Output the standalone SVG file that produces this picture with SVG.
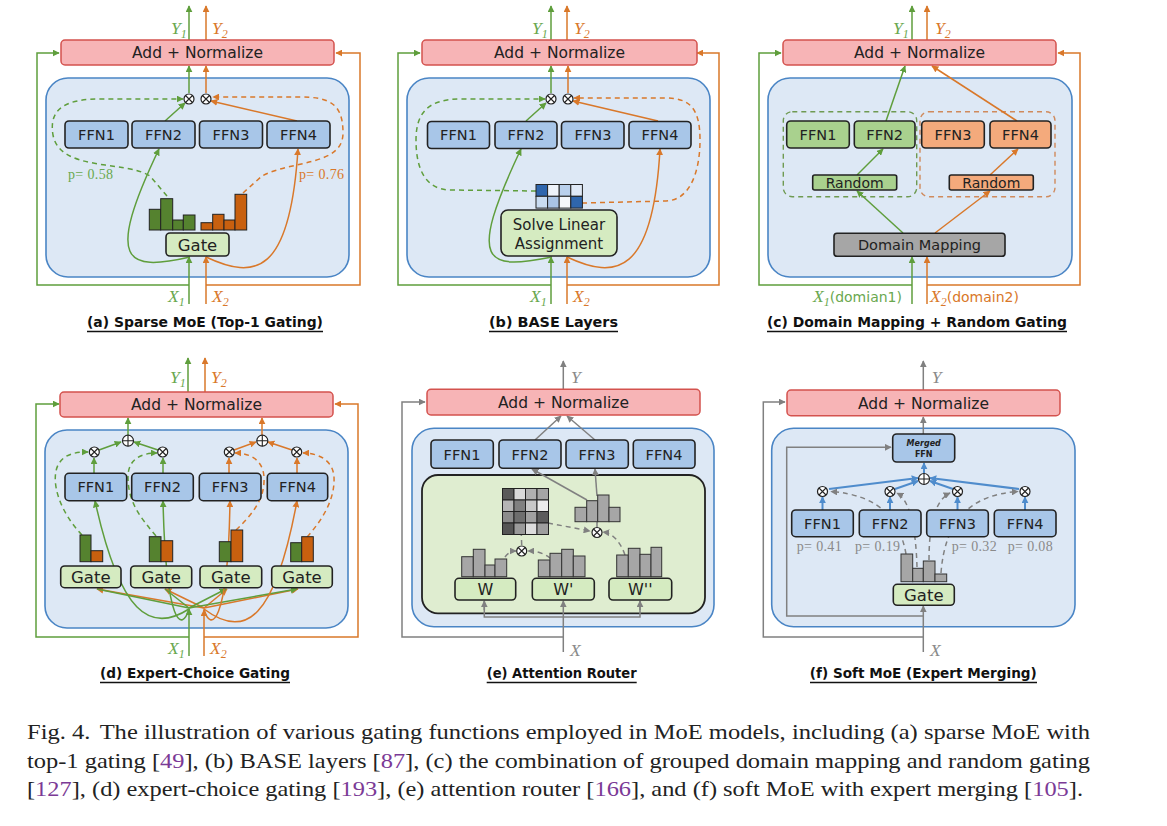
<svg xmlns="http://www.w3.org/2000/svg" width="1167" height="826" viewBox="0 0 1167 826">
<style>
.bg{fill:#ffffff}
.cont{fill:#dde8f5;stroke:#4a85c5;stroke-width:1.6}
.add{fill:#f7b4b6;stroke:#d4524e;stroke-width:1.5}
.ffn{fill:#a8c6e8;stroke:#222;stroke-width:1.6}
.gate{fill:#d5ebc1;stroke:#222;stroke-width:1.6}
.t{font-family:"DejaVu Sans",sans-serif;fill:#222;text-anchor:middle}
.math{font-family:"Liberation Serif",serif;font-style:italic;font-size:17.5px}
.ttl{font-family:"DejaVu Sans",sans-serif;font-weight:bold;font-size:14.5px;fill:#111;text-anchor:middle}
.ul{stroke:#111;stroke-width:1.3}
.p{font-family:"Liberation Serif",serif;font-size:14px}
.g{stroke:#5f9e3c;fill:none;stroke-width:1.5}
.o{stroke:#d9782a;fill:none;stroke-width:1.5}
.gr{stroke:#808080;fill:none;stroke-width:1.5}
.bl{stroke:#4f8ccc;fill:none;stroke-width:2}
.dash{stroke-dasharray:5 4}
.tg{fill:#6aa84f}
.to{fill:#d9782a}
.tgr{fill:#8a8a8a}
.bgn{fill:#55822f;stroke:#222;stroke-width:1}
.bor{fill:#c8600f;stroke:#222;stroke-width:1}
.bgy{fill:#a6a6a6;stroke:#333;stroke-width:1}
.cap{font-family:"Liberation Serif",serif;font-size:21px;fill:#222}
.ref{fill:#7b3a96}
</style>
<defs>
<marker id="ag" viewBox="0 0 10 10" refX="9" refY="5" markerWidth="7" markerHeight="7" markerUnits="userSpaceOnUse" orient="auto"><path d="M0,0L10,5L0,10z" fill="#5f9e3c"/></marker>
<marker id="ao" viewBox="0 0 10 10" refX="9" refY="5" markerWidth="7" markerHeight="7" markerUnits="userSpaceOnUse" orient="auto"><path d="M0,0L10,5L0,10z" fill="#d9782a"/></marker>
<marker id="agr" viewBox="0 0 10 10" refX="9" refY="5" markerWidth="7" markerHeight="7" markerUnits="userSpaceOnUse" orient="auto"><path d="M0,0L10,5L0,10z" fill="#808080"/></marker>
<marker id="abl" viewBox="0 0 10 10" refX="9" refY="5" markerWidth="7" markerHeight="7" markerUnits="userSpaceOnUse" orient="auto"><path d="M0,0L10,5L0,10z" fill="#4f8ccc"/></marker>
<g id="ot"><circle r="5" fill="#fff" stroke="#222" stroke-width="1.2"/><path d="M-3.5,-3.5L3.5,3.5M3.5,-3.5L-3.5,3.5" stroke="#222" stroke-width="1.1"/></g>
<g id="op"><circle r="5.5" fill="#fff" stroke="#222" stroke-width="1.2"/><path d="M-5.5,0H5.5M0,-5.5V5.5" stroke="#222" stroke-width="1.1"/></g>
</defs>
<rect class="bg" x="0" y="0" width="1167" height="826"/>

<!-- ================= (a) ================= -->
<g id="panel-a">
  <g id="a-container"><rect class="cont" x="46" y="78" width="303" height="199" rx="22"/></g>
  <g id="a-connectors">
    <polyline class="g" points="189,285 37,285 37,53 59,53" marker-end="url(#ag)"/>
    <polyline class="o" points="206,285 360,285 360,53 336,53" marker-end="url(#ao)"/>
    <line class="g" x1="189" y1="40" x2="189" y2="6" marker-end="url(#ag)"/>
    <line class="o" x1="206" y1="40" x2="206" y2="6" marker-end="url(#ao)"/>
    <line class="g" x1="189" y1="304" x2="189" y2="257" marker-end="url(#ag)"/>
    <line class="o" x1="206" y1="304" x2="206" y2="257" marker-end="url(#ao)"/>
    <line class="g" x1="189" y1="93" x2="189" y2="66" marker-end="url(#ag)"/>
    <line class="o" x1="206" y1="93" x2="206" y2="66" marker-end="url(#ao)"/>
    <line class="g" x1="165" y1="121" x2="185" y2="103" marker-end="url(#ag)"/>
    <line class="o" x1="297" y1="121" x2="211" y2="101" marker-end="url(#ao)"/>
    <path class="g" d="M190,257 C125,272 105,262 159,149" marker-end="url(#ag)"/>
    <path class="o" d="M206,257 C255,280 290,275 298,149" marker-end="url(#ao)"/>
    <path class="g dash" d="M167,196 L150,176 C125,160 60,172 53,135 C48,106 70,99 100,99 L183,99" marker-end="url(#ag)"/>
    <path class="o dash" d="M243,193 L262,176 C292,160 343,166 343,133 C343,104 330,97 300,97 L213,97" marker-end="url(#ao)"/>
  </g>
  <g id="a-addnorm"><rect class="add" x="61" y="40" width="273" height="25" rx="4"/><text class="t" x="197.5" y="58" font-size="15.5">Add + Normalize</text></g>
  <g id="a-mult"><use href="#ot" x="189" y="99"/><use href="#ot" x="206" y="99"/></g>
  <g id="a-ffn1"><rect class="ffn" x="65" y="121" width="63" height="27" rx="4"/><text class="t" x="96.5" y="139.5" font-size="14.5">FFN1</text></g>
  <g id="a-ffn2"><rect class="ffn" x="132" y="121" width="63" height="27" rx="4"/><text class="t" x="163.5" y="139.5" font-size="14.5">FFN2</text></g>
  <g id="a-ffn3"><rect class="ffn" x="199.5" y="121" width="63" height="27" rx="4"/><text class="t" x="231" y="139.5" font-size="14.5">FFN3</text></g>
  <g id="a-ffn4"><rect class="ffn" x="267" y="121" width="63" height="27" rx="4"/><text class="t" x="298.5" y="139.5" font-size="14.5">FFN4</text></g>
  <g id="a-bars">
    <rect class="bgn" x="149.3" y="209.3" width="11.4" height="20.7"/><rect class="bgn" x="160.7" y="198.7" width="12" height="31.3"/><rect class="bgn" x="172.7" y="220" width="10.6" height="10"/><rect class="bgn" x="183.3" y="215" width="11.7" height="15"/>
    <rect class="bor" x="201" y="222.7" width="11.7" height="7.3"/><rect class="bor" x="212.7" y="214.3" width="11.3" height="15.7"/><rect class="bor" x="224" y="220" width="11" height="10"/><rect class="bor" x="235" y="194.3" width="11.7" height="35.7"/>
  </g>
  <g id="a-gate"><rect class="gate" x="166" y="233" width="63" height="23" rx="4"/><text class="t" x="197.5" y="250.5" font-size="16.5">Gate</text></g>
  <g id="a-labels">
    <text class="p tg" x="68" y="179" textLength="45">p= 0.58</text>
    <text class="p to" x="299" y="179" textLength="45">p= 0.76</text>
    <text class="math tg" x="171" y="34">Y<tspan dy="4" font-size="12">1</tspan></text>
    <text class="math to" x="212" y="34">Y<tspan dy="4" font-size="12">2</tspan></text>
    <text class="math tg" x="168" y="302">X<tspan dy="4" font-size="12">1</tspan></text>
    <text class="math to" x="212" y="302">X<tspan dy="4" font-size="12">2</tspan></text>
  </g>
  <g id="a-title"><text class="ttl" x="205" y="327" textLength="236" lengthAdjust="spacingAndGlyphs">(a) Sparse MoE (Top-1 Gating)</text><line class="ul" x1="87" y1="331.5" x2="323" y2="331.5"/></g>
</g>

<!-- ================= (b) ================= -->
<g id="panel-b" transform="translate(361,0)">
  <g id="b-container"><rect class="cont" x="46" y="78" width="303" height="199" rx="22"/></g>
  <g id="b-connectors">
    <polyline class="g" points="190,285 37,285 37,53 59,53" marker-end="url(#ag)"/>
    <polyline class="o" points="206,285 358,285 358,53 336,53" marker-end="url(#ao)"/>
    <line class="g" x1="190" y1="40" x2="190" y2="6" marker-end="url(#ag)"/>
    <line class="o" x1="206" y1="40" x2="206" y2="6" marker-end="url(#ao)"/>
    <line class="g" x1="190" y1="304" x2="190" y2="257" marker-end="url(#ag)"/>
    <line class="o" x1="206" y1="304" x2="206" y2="257" marker-end="url(#ao)"/>
    <line class="g" x1="190" y1="93" x2="190" y2="66" marker-end="url(#ag)"/>
    <line class="o" x1="207" y1="93" x2="207" y2="66" marker-end="url(#ao)"/>
    <line class="g" x1="165" y1="121" x2="185" y2="103" marker-end="url(#ag)"/>
    <line class="o" x1="297" y1="121" x2="212" y2="101" marker-end="url(#ao)"/>
    <path class="g" d="M191,257 C125,270 105,265 160,149" marker-end="url(#ag)"/>
    <path class="o" d="M206,257 C255,280 292,275 299,149" marker-end="url(#ao)"/>
    <path class="g dash" d="M175,191 L90,190 C62,190 55,165 55,140 C55,110 70,99 100,99 L184,99" marker-end="url(#ag)"/>
    <path class="o dash" d="M221,203 L305,201 C330,200 339,170 339,140 C339,110 330,98 305,98 L213,98" marker-end="url(#ao)"/>
  </g>
  <g id="b-addnorm"><rect class="add" x="61" y="40" width="275" height="25" rx="4"/><text class="t" x="198.5" y="58" font-size="15.5">Add + Normalize</text></g>
  <g id="b-mult"><use href="#ot" x="190" y="99"/><use href="#ot" x="207" y="99"/></g>
  <g id="b-ffn1"><rect class="ffn" x="66.5" y="121.5" width="62" height="27" rx="4"/><text class="t" x="97.5" y="140" font-size="14.5">FFN1</text></g>
  <g id="b-ffn2"><rect class="ffn" x="134" y="121.5" width="62" height="27" rx="4"/><text class="t" x="165" y="140" font-size="14.5">FFN2</text></g>
  <g id="b-ffn3"><rect class="ffn" x="200.5" y="121.5" width="62.5" height="27" rx="4"/><text class="t" x="232" y="140" font-size="14.5">FFN3</text></g>
  <g id="b-ffn4"><rect class="ffn" x="268" y="121.5" width="62" height="27" rx="4"/><text class="t" x="299" y="140" font-size="14.5">FFN4</text></g>
  <g id="b-matrix" stroke="#222" stroke-width="1">
    <rect x="175" y="184.5" width="11.6" height="11.8" fill="#2f66ad"/><rect x="186.6" y="184.5" width="11.6" height="11.8" fill="#eef3fa"/><rect x="198.2" y="184.5" width="11.6" height="11.8" fill="#b9d0ec"/><rect x="209.8" y="184.5" width="11.6" height="11.8" fill="#dfe9f6"/>
    <rect x="175" y="196.3" width="11.6" height="11.8" fill="#c9dcf1"/><rect x="186.6" y="196.3" width="11.6" height="11.8" fill="#a9c4e6"/><rect x="198.2" y="196.3" width="11.6" height="11.8" fill="#f4f7fb"/><rect x="209.8" y="196.3" width="11.6" height="11.8" fill="#2f66ad"/>
  </g>
  <g id="b-sla"><rect class="gate" x="140" y="210" width="116" height="46" rx="7"/><text class="t" x="198" y="230" font-size="15">Solve Linear</text><text class="t" x="198" y="249" font-size="15">Assignment</text></g>
  <g id="b-labels">
    <text class="math tg" x="171" y="34">Y<tspan dy="4" font-size="12">1</tspan></text>
    <text class="math to" x="213" y="34">Y<tspan dy="4" font-size="12">2</tspan></text>
    <text class="math tg" x="169" y="302">X<tspan dy="4" font-size="12">1</tspan></text>
    <text class="math to" x="212" y="302">X<tspan dy="4" font-size="12">2</tspan></text>
  </g>
  <g id="b-title"><text class="ttl" x="192.5" y="327" textLength="129" lengthAdjust="spacingAndGlyphs">(b) BASE Layers</text><line class="ul" x1="128" y1="331.5" x2="257" y2="331.5"/></g>
</g>

<!-- ================= (c) ================= -->
<g id="panel-c" transform="translate(722,0)">
  <g id="c-container"><rect class="cont" x="46" y="78" width="304" height="199" rx="22"/></g>
  <g id="c-groups">
    <rect x="61.3" y="111.7" width="133.4" height="85" rx="9" fill="none" stroke="#6f9a52" stroke-width="1.4" stroke-dasharray="5 4"/>
    <rect x="198" y="111.7" width="135" height="85" rx="9" fill="none" stroke="#d08a5c" stroke-width="1.4" stroke-dasharray="5 4"/>
  </g>
  <g id="c-connectors">
    <polyline class="g" points="190,285 37,285 37,53 59,53" marker-end="url(#ag)"/>
    <polyline class="o" points="205,285 358,285 358,53 336,53" marker-end="url(#ao)"/>
    <line class="g" x1="190" y1="40" x2="190" y2="6" marker-end="url(#ag)"/>
    <line class="o" x1="205" y1="40" x2="205" y2="6" marker-end="url(#ao)"/>
    <line class="g" x1="190" y1="304" x2="190" y2="257" marker-end="url(#ag)"/>
    <line class="o" x1="205" y1="304" x2="205" y2="257" marker-end="url(#ao)"/>
    <line class="g" x1="181" y1="233" x2="135" y2="191" marker-end="url(#ag)"/>
    <line class="o" x1="213" y1="233" x2="268" y2="191" marker-end="url(#ao)"/>
    <line class="g" x1="135" y1="175" x2="161" y2="149" marker-end="url(#ag)"/>
    <line class="o" x1="268" y1="175" x2="296" y2="149" marker-end="url(#ao)"/>
    <line class="g" x1="164" y1="121" x2="183" y2="66" marker-end="url(#ag)"/>
    <line class="o" x1="295" y1="121" x2="210" y2="66" marker-end="url(#ao)"/>
  </g>
  <g id="c-addnorm"><rect class="add" x="61" y="40" width="273" height="25" rx="4"/><text class="t" x="197.5" y="58" font-size="15.5">Add + Normalize</text></g>
  <g id="c-ffn1"><rect x="64.7" y="121" width="62.6" height="27" rx="4" fill="#a9d18e" stroke="#222" stroke-width="1.6"/><text class="t" x="96" y="139.5" font-size="14.5">FFN1</text></g>
  <g id="c-ffn2"><rect x="132.3" y="121" width="60.7" height="27" rx="4" fill="#a9d18e" stroke="#222" stroke-width="1.6"/><text class="t" x="162.7" y="139.5" font-size="14.5">FFN2</text></g>
  <g id="c-ffn3"><rect x="199.7" y="121" width="62.6" height="27" rx="4" fill="#f4aa7c" stroke="#222" stroke-width="1.6"/><text class="t" x="231" y="139.5" font-size="14.5">FFN3</text></g>
  <g id="c-ffn4"><rect x="268" y="121" width="61" height="27" rx="4" fill="#f4aa7c" stroke="#222" stroke-width="1.6"/><text class="t" x="298.5" y="139.5" font-size="14.5">FFN4</text></g>
  <g id="c-random1"><rect x="90.7" y="175" width="84" height="15" rx="2" fill="#a9d18e" stroke="#222" stroke-width="1.6"/><text class="t" x="132.7" y="187.5" font-size="14">Random</text></g>
  <g id="c-random2"><rect x="227.3" y="175" width="84" height="15" rx="2" fill="#f4aa7c" stroke="#222" stroke-width="1.6"/><text class="t" x="269.3" y="187.5" font-size="14">Random</text></g>
  <g id="c-domain"><rect x="112" y="233.3" width="171" height="23" rx="3" fill="#a6a6a6" stroke="#222" stroke-width="1.6"/><text class="t" x="197.5" y="250" font-size="14.5">Domain Mapping</text></g>
  <g id="c-labels">
    <text class="math tg" x="171" y="34">Y<tspan dy="4" font-size="12">1</tspan></text>
    <text class="math to" x="213" y="34">Y<tspan dy="4" font-size="12">2</tspan></text>
    <text class="math tg" x="91" y="302">X<tspan dy="4" font-size="12">1</tspan><tspan dy="-4" font-family="DejaVu Sans,sans-serif" font-style="normal" font-size="14">(domian1)</tspan></text>
    <text class="math to" x="208" y="302">X<tspan dy="4" font-size="12">2</tspan><tspan dy="-4" font-family="DejaVu Sans,sans-serif" font-style="normal" font-size="14">(domain2)</tspan></text>
  </g>
  <g id="c-title"><text class="ttl" x="195" y="327" textLength="300" lengthAdjust="spacingAndGlyphs">(c) Domain Mapping + Random Gating</text><line class="ul" x1="45" y1="331.5" x2="345" y2="331.5"/></g>
</g>

<!-- ================= (d) ================= -->
<g id="panel-d" transform="translate(0,352)">
  <g id="d-container"><rect class="cont" x="45" y="78" width="303" height="198" rx="22"/></g>
  <g id="d-connectors">
    <polyline class="g" points="189,285 36,285 36,52 59,52" marker-end="url(#ag)"/>
    <polyline class="o" points="204,285 358,285 358,52 335,52" marker-end="url(#ao)"/>
    <line class="g" x1="188" y1="40" x2="188" y2="6" marker-end="url(#ag)"/>
    <line class="o" x1="205" y1="40" x2="205" y2="6" marker-end="url(#ao)"/>
    <line class="g" x1="189" y1="304" x2="189" y2="257" marker-end="url(#ag)"/>
    <line class="o" x1="204" y1="304" x2="204" y2="258" marker-end="url(#ao)"/>
    <line class="o" x1="204" y1="256" x2="97" y2="237" marker-end="url(#ao)"/>
    <line class="o" x1="204" y1="256" x2="165" y2="237" marker-end="url(#ao)"/>
    <line class="o" x1="204" y1="256" x2="227" y2="237" marker-end="url(#ao)"/>
    <line class="o" x1="204" y1="256" x2="298" y2="237" marker-end="url(#ao)"/>
    <line class="g" x1="189" y1="256" x2="97" y2="237"/>
    <line class="g" x1="189" y1="256" x2="165" y2="237"/>
    <line class="g" x1="189" y1="256" x2="226" y2="237" marker-end="url(#ag)"/>
    <line class="g" x1="189" y1="256" x2="297" y2="237" marker-end="url(#ag)"/>
    <path class="g" d="M189,257 C150,282 120,262 95,149" marker-end="url(#ag)"/>
    <path class="g" d="M189,257 C182,280 166,276 163,149" marker-end="url(#ag)"/>
    <path class="o" d="M204,257 C210,280 228,276 230,149" marker-end="url(#ao)"/>
    <path class="o" d="M204,257 C245,288 275,268 297,149" marker-end="url(#ao)"/>
    <line class="g" x1="94" y1="121" x2="94" y2="106" marker-end="url(#ag)"/>
    <line class="g" x1="163" y1="121" x2="163" y2="106" marker-end="url(#ag)"/>
    <line class="o" x1="229" y1="121" x2="229" y2="106" marker-end="url(#ao)"/>
    <line class="o" x1="297" y1="121" x2="297" y2="106" marker-end="url(#ao)"/>
    <line class="g" x1="99" y1="98" x2="121" y2="90" marker-end="url(#ag)"/>
    <line class="g" x1="158" y1="98" x2="134" y2="90" marker-end="url(#ag)"/>
    <line class="o" x1="234" y1="98" x2="256" y2="90" marker-end="url(#ao)"/>
    <line class="o" x1="292" y1="98" x2="268" y2="90" marker-end="url(#ao)"/>
    <line class="g" x1="128" y1="83" x2="128" y2="66" marker-end="url(#ag)"/>
    <line class="o" x1="262" y1="83" x2="262" y2="66" marker-end="url(#ao)"/>
    <path class="g dash" d="M82,183 C60,160 50,130 58,113 C64,102 75,100 88,100" marker-end="url(#ag)"/>
    <path class="g dash" d="M156,184 C140,165 128,150 128,125 C128,108 140,101 157,101" marker-end="url(#ag)"/>
    <path class="o dash" d="M236,178 C255,160 265,145 264,125 C263,108 250,101 235,101" marker-end="url(#ao)"/>
    <path class="o dash" d="M307,185 C325,165 335,145 334,125 C333,108 318,101 303,101" marker-end="url(#ao)"/>
  </g>
  <g id="d-addnorm"><rect class="add" x="60" y="40" width="273" height="25" rx="4"/><text class="t" x="196.5" y="58" font-size="15.5">Add + Normalize</text></g>
  <g id="d-ops"><use href="#ot" x="94.3" y="100"/><use href="#ot" x="162.7" y="100"/><use href="#ot" x="229.3" y="100"/><use href="#ot" x="296.7" y="100"/><use href="#op" x="128" y="88.7"/><use href="#op" x="262.3" y="88.7"/></g>
  <g id="d-ffn1"><rect class="ffn" x="65" y="121.3" width="61.7" height="27.4" rx="4"/><text class="t" x="95.8" y="140" font-size="14.5">FFN1</text></g>
  <g id="d-ffn2"><rect class="ffn" x="131.7" y="121.3" width="61.6" height="27.4" rx="4"/><text class="t" x="162.5" y="140" font-size="14.5">FFN2</text></g>
  <g id="d-ffn3"><rect class="ffn" x="199.3" y="121.3" width="61.7" height="27.4" rx="4"/><text class="t" x="230.2" y="140" font-size="14.5">FFN3</text></g>
  <g id="d-ffn4"><rect class="ffn" x="267.3" y="121.3" width="60.4" height="27.4" rx="4"/><text class="t" x="297.5" y="140" font-size="14.5">FFN4</text></g>
  <g id="d-bars">
    <rect class="bgn" x="80" y="183" width="11" height="26.7"/><rect class="bor" x="91" y="198.7" width="11.7" height="11"/>
    <rect class="bgn" x="149.3" y="184.7" width="11.7" height="25"/><rect class="bor" x="161" y="188.7" width="11.7" height="21"/>
    <rect class="bgn" x="219.3" y="189.7" width="11.7" height="20"/><rect class="bor" x="231" y="178" width="11.7" height="31.7"/>
    <rect class="bgn" x="290.7" y="190.7" width="11" height="19"/><rect class="bor" x="301.7" y="184.7" width="11.6" height="25"/>
  </g>
  <g id="d-gate1"><rect class="gate" x="60.7" y="214" width="60.3" height="21.7" rx="4"/><text class="t" x="90.8" y="230.5" font-size="16.5">Gate</text></g>
  <g id="d-gate2"><rect class="gate" x="130.7" y="214" width="61" height="21.7" rx="4"/><text class="t" x="161.2" y="230.5" font-size="16.5">Gate</text></g>
  <g id="d-gate3"><rect class="gate" x="200" y="214" width="61.7" height="21.7" rx="4"/><text class="t" x="230.8" y="230.5" font-size="16.5">Gate</text></g>
  <g id="d-gate4"><rect class="gate" x="271.7" y="214" width="60.6" height="21.7" rx="4"/><text class="t" x="302" y="230.5" font-size="16.5">Gate</text></g>
  <g id="d-labels">
    <text class="math tg" x="170" y="31">Y<tspan dy="4" font-size="12">1</tspan></text>
    <text class="math to" x="211" y="31">Y<tspan dy="4" font-size="12">2</tspan></text>
    <text class="math tg" x="168" y="302">X<tspan dy="4" font-size="12">1</tspan></text>
    <text class="math to" x="210" y="302">X<tspan dy="4" font-size="12">2</tspan></text>
  </g>
  <g id="d-title"><text class="ttl" x="195" y="326" textLength="190" lengthAdjust="spacingAndGlyphs">(d) Expert-Choice Gating</text><line class="ul" x1="100" y1="330.5" x2="290" y2="330.5"/></g>
</g>

<!-- ================= (e) ================= -->
<g id="panel-e">
  <g id="e-container"><rect class="cont" x="412" y="428.3" width="302" height="198.4" rx="22"/></g>
  <g id="e-router-box"><rect x="422" y="475" width="283" height="138.3" rx="16" fill="#dfedd0" stroke="#222" stroke-width="1.8"/></g>
  <g id="e-connectors">
    <polyline class="gr" points="563,637 402,637 402,402 425,402" marker-end="url(#agr)"/>
    <line class="gr" x1="563.3" y1="389" x2="563.3" y2="361" marker-end="url(#agr)"/>
    <line class="gr" x1="563.3" y1="652" x2="563.3" y2="601" marker-end="url(#agr)"/>
    <polyline class="gr" points="484.3,601 484.3,617 640,617 640,601"/>
    <line class="gr" x1="484.3" y1="610" x2="484.3" y2="601" marker-end="url(#agr)"/>
    <line class="gr" x1="640" y1="610" x2="640" y2="601" marker-end="url(#agr)"/>
    <line class="gr" x1="535" y1="440" x2="561" y2="416" marker-end="url(#agr)"/>
    <line class="gr" x1="595" y1="440" x2="567" y2="416" marker-end="url(#agr)"/>
    <line class="gr" x1="587" y1="500" x2="532" y2="469" marker-end="url(#agr)"/>
    <line class="gr" x1="597" y1="496" x2="595" y2="469" marker-end="url(#agr)"/>
    <path class="gr dash" d="M505,557 Q509,551 516,551" marker-end="url(#agr)"/>
    <path class="gr dash" d="M560,573 C556,560 545,551 528,551" marker-end="url(#agr)"/>
    <line class="gr dash" x1="521.7" y1="545" x2="520.5" y2="512" marker-end="url(#agr)"/>
    <line class="gr dash" x1="548" y1="523" x2="590" y2="531" marker-end="url(#agr)"/>
    <path class="gr dash" d="M625,555 C620,541 612,533 603,532" marker-end="url(#agr)"/>
    <line class="gr dash" x1="597" y1="527" x2="597" y2="508" marker-end="url(#agr)"/>
  </g>
  <g id="e-addnorm"><rect class="add" x="427" y="389.3" width="273" height="25.7" rx="4"/><text class="t" x="563.5" y="408" font-size="15.5">Add + Normalize</text></g>
  <g id="e-ffn1"><rect class="ffn" x="431" y="440" width="62.3" height="28.3" rx="4"/><text class="t" x="462" y="459.5" font-size="14.5">FFN1</text></g>
  <g id="e-ffn2"><rect class="ffn" x="499" y="440" width="62" height="28.3" rx="4"/><text class="t" x="530" y="459.5" font-size="14.5">FFN2</text></g>
  <g id="e-ffn3"><rect class="ffn" x="566" y="440" width="62.3" height="28.3" rx="4"/><text class="t" x="597" y="459.5" font-size="14.5">FFN3</text></g>
  <g id="e-ffn4"><rect class="ffn" x="633.3" y="440" width="61.7" height="28.3" rx="4"/><text class="t" x="664" y="459.5" font-size="14.5">FFN4</text></g>
  <g id="e-matrix" stroke="#222" stroke-width="1">
    <rect x="502.5" y="488.5" width="11.5" height="11.5" fill="#5a5a5a"/><rect x="514" y="488.5" width="11.5" height="11.5" fill="#d9d9d9"/><rect x="525.5" y="488.5" width="11.5" height="11.5" fill="#b0b0b0"/><rect x="537" y="488.5" width="11.5" height="11.5" fill="#a5a5a5"/>
    <rect x="502.5" y="500" width="11.5" height="11.5" fill="#b5b5b5"/><rect x="514" y="500" width="11.5" height="11.5" fill="#808080"/><rect x="525.5" y="500" width="11.5" height="11.5" fill="#c8c8c8"/><rect x="537" y="500" width="11.5" height="11.5" fill="#ececec"/>
    <rect x="502.5" y="511.5" width="11.5" height="11.5" fill="#8c8c8c"/><rect x="514" y="511.5" width="11.5" height="11.5" fill="#6e6e6e"/><rect x="525.5" y="511.5" width="11.5" height="11.5" fill="#a0a0a0"/><rect x="537" y="511.5" width="11.5" height="11.5" fill="#5c5c5c"/>
    <rect x="502.5" y="523" width="11.5" height="11.5" fill="#555555"/><rect x="514" y="523" width="11.5" height="11.5" fill="#9a9a9a"/><rect x="525.5" y="523" width="11.5" height="11.5" fill="#dcdcdc"/><rect x="537" y="523" width="11.5" height="11.5" fill="#9e9e9e"/>
  </g>
  <g id="e-hist">
    <rect class="bgy" x="575" y="507.3" width="11.7" height="14.4"/><rect class="bgy" x="586.7" y="500.7" width="11" height="21"/><rect class="bgy" x="597.7" y="495" width="11.3" height="26.7"/><rect class="bgy" x="609" y="507.3" width="11" height="14.4"/>
  </g>
  <g id="e-ops"><use href="#ot" x="521.7" y="551"/><use href="#ot" x="597" y="532.5"/></g>
  <g id="e-wbars">
    <rect class="bgy" x="461.7" y="556.7" width="11.6" height="20"/><rect class="bgy" x="473.3" y="549.3" width="11.7" height="27.4"/><rect class="bgy" x="485" y="565" width="10" height="11.7"/><rect class="bgy" x="495" y="559" width="11.7" height="17.7"/>
    <rect class="bgy" x="538.3" y="560" width="11.7" height="16.7"/><rect class="bgy" x="550" y="553.3" width="11.7" height="23.4"/><rect class="bgy" x="561.7" y="549.3" width="11.6" height="27.4"/><rect class="bgy" x="573.3" y="556" width="11.7" height="20.7"/>
    <rect class="bgy" x="616.7" y="555" width="11.6" height="21.7"/><rect class="bgy" x="628.3" y="548.3" width="11.7" height="28.4"/><rect class="bgy" x="640" y="554.3" width="11" height="22.4"/><rect class="bgy" x="651" y="547.3" width="10.7" height="29.4"/>
  </g>
  <g id="e-w1"><rect class="gate" x="455" y="578.3" width="60.7" height="21.7" rx="4"/><text class="t" x="485.3" y="595" font-size="16">W</text></g>
  <g id="e-w2"><rect class="gate" x="532.3" y="578.3" width="62" height="21.7" rx="4"/><text class="t" x="563.3" y="595" font-size="16">W'</text></g>
  <g id="e-w3"><rect class="gate" x="609" y="578.3" width="62.7" height="21.7" rx="4"/><text class="t" x="640.3" y="595" font-size="16">W''</text></g>
  <g id="e-labels">
    <text class="math tgr" x="571" y="383">Y</text>
    <text class="math tgr" x="570" y="656">X</text>
  </g>
  <g id="e-title"><text class="ttl" x="561.7" y="678" textLength="150" lengthAdjust="spacingAndGlyphs">(e) Attention Router</text><line class="ul" x1="486.7" y1="682.5" x2="636.7" y2="682.5"/></g>
</g>

<!-- ================= (f) ================= -->
<g id="panel-f">
  <g id="f-container"><rect class="cont" x="771.7" y="428.3" width="303.3" height="198.4" rx="22"/></g>
  <g id="f-connectors">
    <polyline class="gr" points="923.3,637 763.3,637 763.3,402 785,402" marker-end="url(#agr)"/>
    <line class="gr" x1="923.3" y1="390" x2="923.3" y2="361" marker-end="url(#agr)"/>
    <line class="gr" x1="923.3" y1="652" x2="923.3" y2="606" marker-end="url(#agr)"/>
    <polyline class="gr" points="923.3,616 786.7,616 786.7,447.3 891,447.3" marker-end="url(#agr)"/>
    <line class="gr" x1="923.3" y1="434" x2="923.3" y2="417" marker-end="url(#agr)"/>
    <line class="bl" x1="924" y1="473" x2="924" y2="463" marker-end="url(#abl)"/>
    <line class="bl" x1="829" y1="489" x2="918" y2="478" marker-end="url(#abl)"/>
    <line class="bl" x1="895" y1="489" x2="918" y2="481" marker-end="url(#abl)"/>
    <line class="bl" x1="953" y1="489" x2="930" y2="481" marker-end="url(#abl)"/>
    <line class="bl" x1="1019" y1="489" x2="930" y2="478" marker-end="url(#abl)"/>
    <line class="bl" x1="822.5" y1="510" x2="822.5" y2="497" marker-end="url(#abl)"/>
    <line class="bl" x1="890" y1="510" x2="890" y2="497" marker-end="url(#abl)"/>
    <line class="bl" x1="957.5" y1="510" x2="957.5" y2="497" marker-end="url(#abl)"/>
    <line class="bl" x1="1025" y1="510" x2="1025" y2="497" marker-end="url(#abl)"/>
    <path class="gr dash" d="M906,554 C900,520 880,495 831,491.5" marker-end="url(#agr)"/>
    <path class="gr dash" d="M917,567 C916,530 910,500 897,493" marker-end="url(#agr)"/>
    <path class="gr dash" d="M929,560 C929,525 935,500 950,493" marker-end="url(#agr)"/>
    <path class="gr dash" d="M941,573 C945,520 970,495 1018,491.5" marker-end="url(#agr)"/>
  </g>
  <g id="f-addnorm"><rect class="add" x="787" y="390" width="273" height="25.7" rx="4"/><text class="t" x="923.5" y="408.5" font-size="15.5">Add + Normalize</text></g>
  <g id="f-merged"><rect class="ffn" x="892.7" y="434" width="62" height="28" rx="4"/><text class="t" x="923.7" y="445.5" font-size="8" font-weight="bold" font-style="italic">Merged</text><text class="t" x="923.7" y="456.5" font-size="8" font-weight="bold">FFN</text></g>
  <g id="f-ops"><use href="#op" x="924" y="479"/><use href="#ot" x="822.5" y="491.5"/><use href="#ot" x="890" y="491.5"/><use href="#ot" x="957.5" y="491.5"/><use href="#ot" x="1025" y="491.5"/></g>
  <g id="f-ffn1"><rect class="ffn" x="791.7" y="510" width="61.6" height="26.7" rx="4"/><text class="t" x="822.5" y="528.5" font-size="14.5">FFN1</text></g>
  <g id="f-ffn2"><rect class="ffn" x="859.3" y="510" width="61.7" height="26.7" rx="4"/><text class="t" x="890.2" y="528.5" font-size="14.5">FFN2</text></g>
  <g id="f-ffn3"><rect class="ffn" x="926.7" y="510" width="61.6" height="26.7" rx="4"/><text class="t" x="957.5" y="528.5" font-size="14.5">FFN3</text></g>
  <g id="f-ffn4"><rect class="ffn" x="994.3" y="510" width="61.7" height="26.7" rx="4"/><text class="t" x="1025.2" y="528.5" font-size="14.5">FFN4</text></g>
  <g id="f-bars">
    <rect class="bgy" x="901" y="554" width="11.7" height="27.7"/><rect class="bgy" x="912.7" y="568.3" width="10.6" height="13.4"/><rect class="bgy" x="923.3" y="561" width="11.7" height="20.7"/><rect class="bgy" x="935" y="574" width="11.7" height="7.7"/>
  </g>
  <g id="f-gate"><rect class="gate" x="893.3" y="584.3" width="61" height="21" rx="4"/><text class="t" x="923.8" y="600.5" font-size="16.5">Gate</text></g>
  <g id="f-labels">
    <text class="p tgr" x="796.7" y="551" textLength="45">p= 0.41</text>
    <text class="p tgr" x="855" y="551" textLength="45">p= 0.19</text>
    <text class="p tgr" x="951.7" y="551" textLength="45">p= 0.32</text>
    <text class="p tgr" x="1007.7" y="551" textLength="45">p= 0.08</text>
    <text class="math tgr" x="931.7" y="383">Y</text>
    <text class="math tgr" x="930" y="656">X</text>
  </g>
  <g id="f-title"><text class="ttl" x="923.3" y="678" textLength="227" lengthAdjust="spacingAndGlyphs">(f) Soft MoE (Expert Merging)</text><line class="ul" x1="810" y1="682.5" x2="1037" y2="682.5"/></g>
</g>

<!-- ================= caption ================= -->
<g id="caption">
  <text class="cap" x="27" y="739" textLength="1063" lengthAdjust="spacingAndGlyphs">Fig. 4.<tspan dx="8">The illustration of various gating functions employed in MoE models, including (a) sparse MoE with</tspan></text>
  <text class="cap" x="27" y="768" textLength="1063" lengthAdjust="spacingAndGlyphs">top-1 gating [<tspan class="ref">49</tspan>], (b) BASE layers [<tspan class="ref">87</tspan>], (c) the combination of grouped domain mapping and random gating</text>
  <text class="cap" x="27" y="796" textLength="1056" lengthAdjust="spacingAndGlyphs">[<tspan class="ref">127</tspan>], (d) expert-choice gating [<tspan class="ref">193</tspan>], (e) attention router [<tspan class="ref">166</tspan>], and (f) soft MoE with expert merging [<tspan class="ref">105</tspan>].</text>
</g>
</svg>
